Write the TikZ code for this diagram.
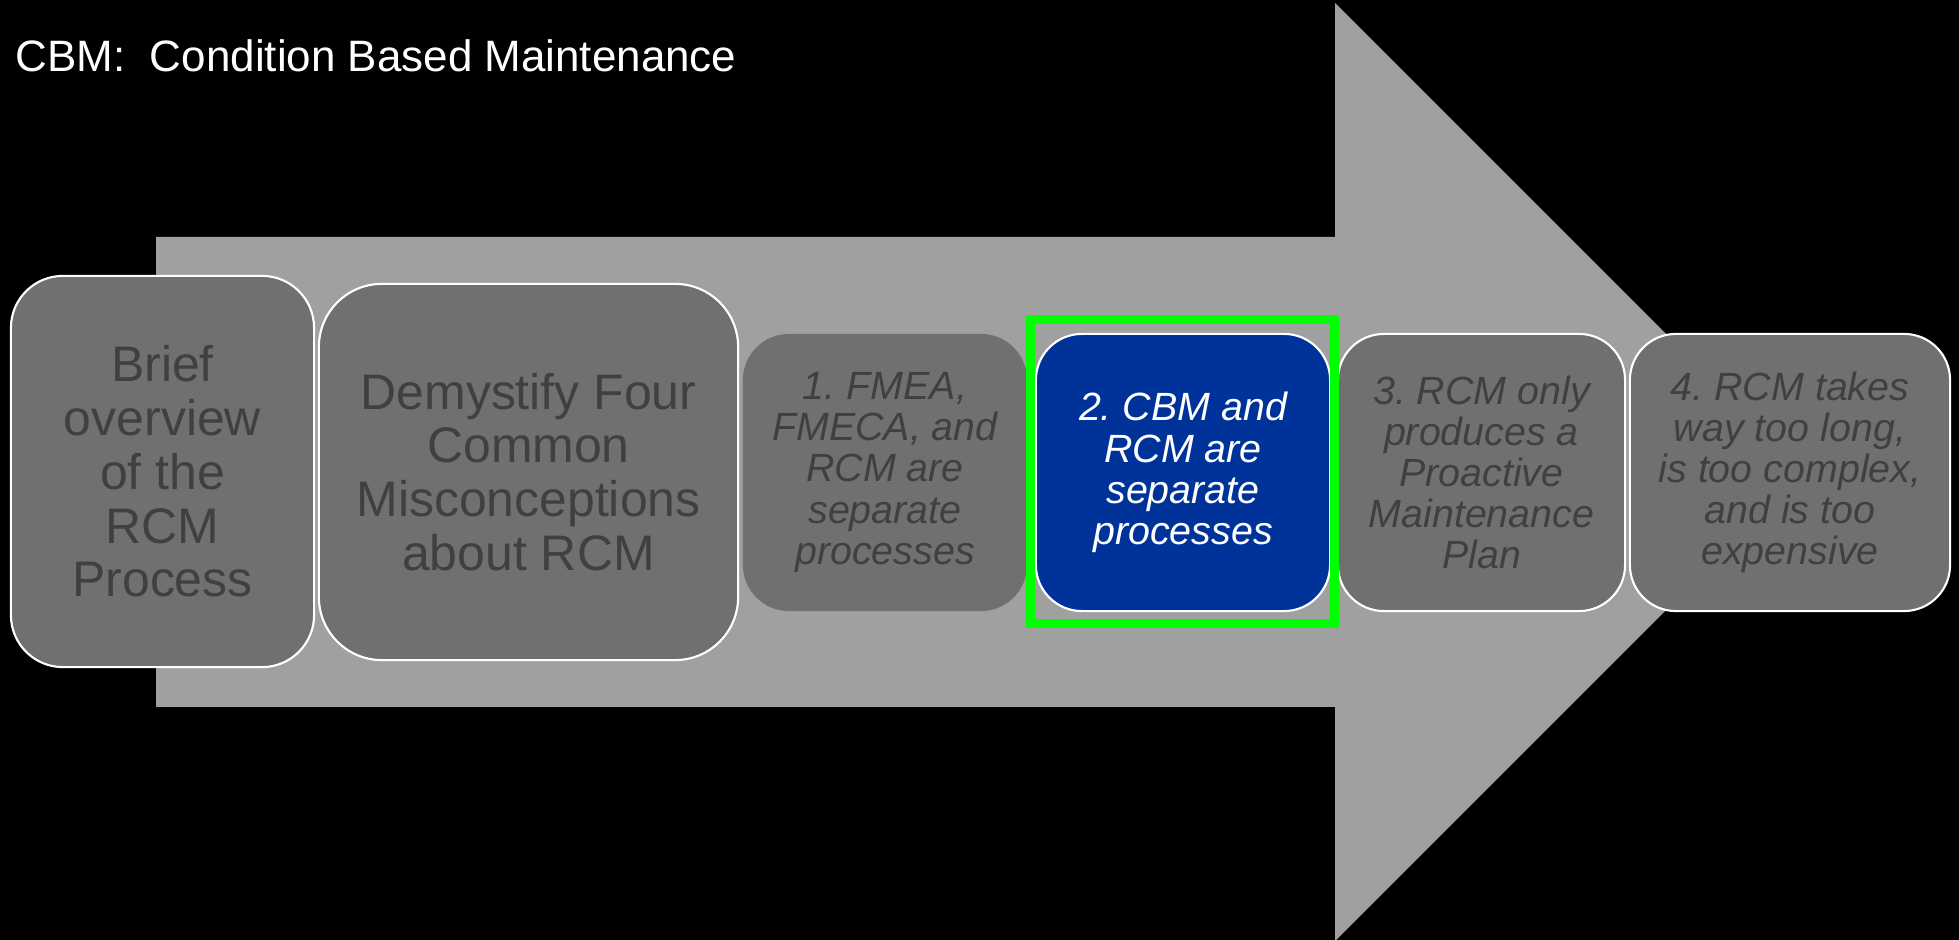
\documentclass[tikz,border=0pt]{standalone}
\usepackage{fontspec}
\setmainfont{Liberation Sans}
\usepackage{tikz}
\frenchspacing
\definecolor{shaft}{HTML}{A0A0A0}
\definecolor{slate}{HTML}{707070}
\definecolor{ink}{HTML}{404040}
\definecolor{cobalt}{HTML}{003399}
\definecolor{lime}{HTML}{00FF00}
\tikzset{
  stage/.style={draw=white,line width=0.6pt,fill=slate,text=ink,align=center,inner sep=0pt,
    font=\fontsize{14.2}{15.3}\selectfont},
  myth/.style={stage,minimum height=2.77cm,rounded corners=0.46cm,
    font=\fontsize{11.2}{11.7}\selectfont\itshape}
}
\newcommand{\myth}[5]{\node[myth,minimum width=#3,#4] (#1) at (#2,472.5) {#5};}

\begin{document}
\begin{tikzpicture}[x=0.01cm,y=-0.01cm]
\useasboundingbox (0,0) rectangle (1959,940);
\fill[black] (0,0) rectangle (1959,940);
% big arrow behind the cards
\fill[shaft] (156,237) -- (1335,237) -- (1335,3) -- (1804,472) -- (1335,941) -- (1335,707) -- (156,707) -- cycle;
\node[anchor=base west,inner sep=0pt,text=white,font=\fontsize{12.5}{15}\selectfont] (title) at (15,72) {CBM:\ \ Condition Based Maintenance};
\node[stage,minimum width=3.03cm,minimum height=3.91cm,rounded corners=0.52cm] (brief) at (162.5,471.5) {Brief\\overview\\of the\\RCM\\Process};
\node[stage,minimum width=4.19cm,minimum height=3.76cm,rounded corners=0.63cm] (demyst) at (528.5,472) {Demystify Four\\Common\\Misconceptions\\about RCM};
\myth{fmea}{885}{2.84cm}{draw=none}{1. FMEA,\\FMECA, and\\RCM are\\separate\\processes}
\myth{cbm}{1183}{2.94cm}{fill=cobalt,text=white}{2. CBM and\\RCM are\\separate\\processes}
\myth{plan}{1481.5}{2.87cm}{}{3. RCM only\\produces a\\Proactive\\Maintenance\\Plan}
\myth{cost}{1790}{3.20cm}{}{4. RCM takes\\way too long,\\is too complex,\\and is too\\expensive}
% current step
\draw[lime,line width=0.09cm] ([shift={(-4,-13)}]cbm.north west) rectangle ([shift={(3,11)}]cbm.south east);
\end{tikzpicture}
\end{document}
